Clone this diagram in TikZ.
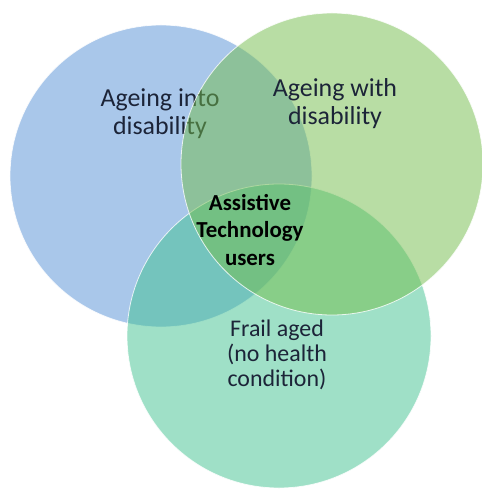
\documentclass[tikz,border=0pt]{standalone}
\usepackage{fontspec}
\setmainfont{Carlito}
\definecolor{cblue}{RGB}{85,145,215}
\definecolor{cgreen}{RGB}{115,189,75}
\definecolor{cteal}{RGB}{65,195,145}
\definecolor{txt}{RGB}{28,36,56}
\tikzset{
  venn/.style={circle, minimum size=302bp, inner sep=0pt, fill opacity=0.5, draw=white, draw opacity=0.8, line width=0.8bp},
  lbl/.style={align=center, text=txt, font=\fontsize{26}{28}\selectfont, inner sep=0pt},
  lblc/.style={align=center, text=black, font=\fontsize{23}{28}\selectfont\bfseries, inner sep=0pt}
}
\begin{document}
\begin{tikzpicture}[x=1bp,y=-1bp]
\useasboundingbox[fill=white] (0,0) rectangle (482,489);
\node[venn, fill=cblue] (blue) at (161,176) {};
\node[lbl] (lblue) at (160,114) {Ageing into\\disability};
\node[venn, fill=cteal, minimum size=304bp] (teal) at (279,336) {};
\node[venn, fill=cgreen] (green) at (332,164) {};
\node[lbl] (lgreen) at (335,104) {Ageing with\\disability};
\node[lbl, font=\fontsize{24}{25}\selectfont] (lteal) at (277,355) {Frail aged\\(no health\\condition)};
\node[lblc] (center) at (250,230) {Assistive\\Technology\\users};
\end{tikzpicture}
\end{document}
